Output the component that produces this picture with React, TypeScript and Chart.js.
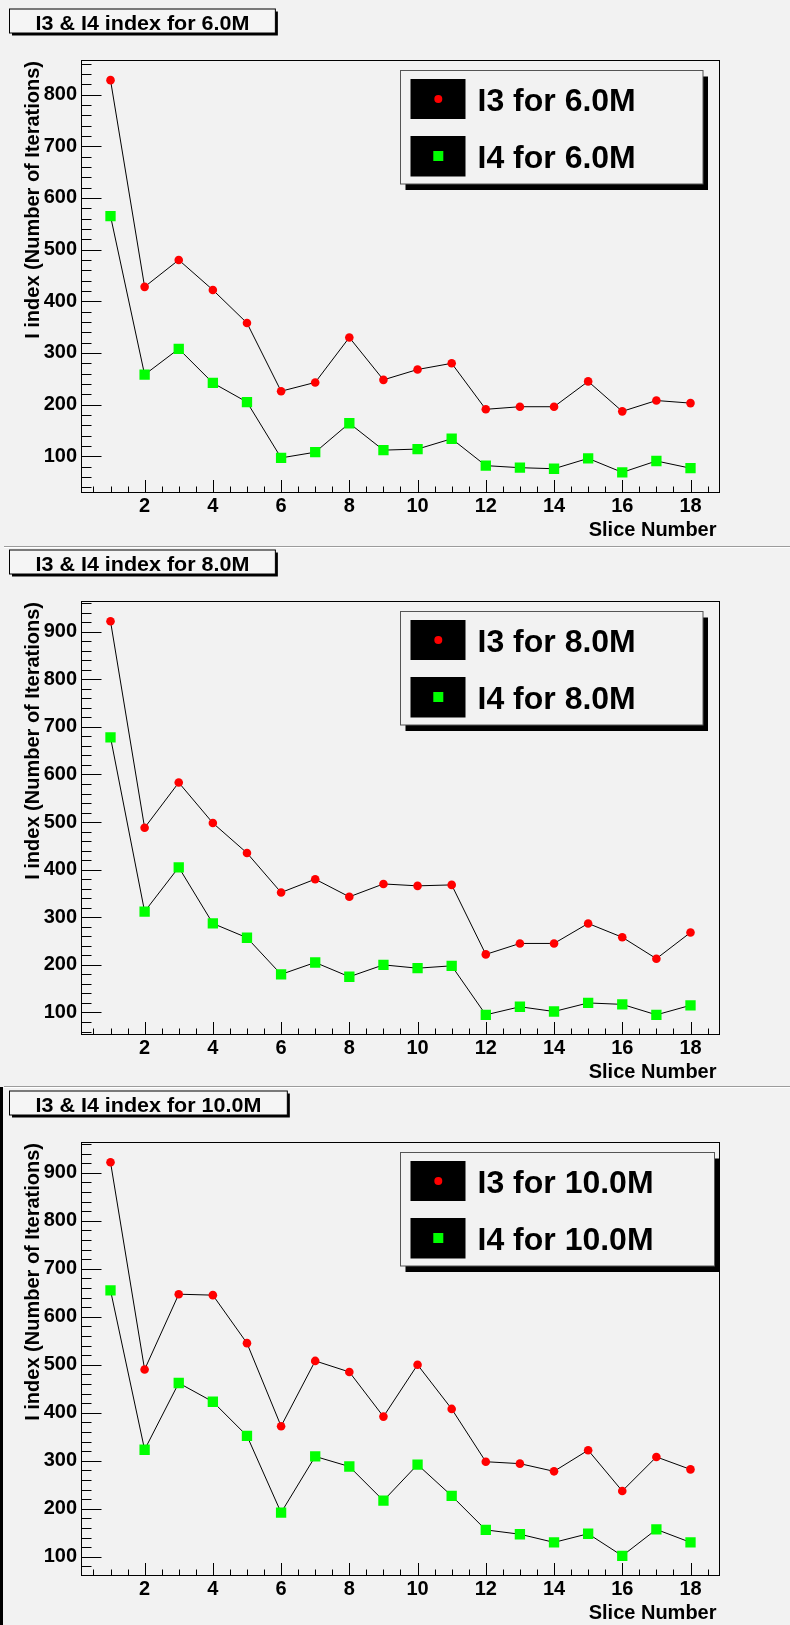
import React, { useEffect, useRef } from "react";
import { Chart, registerables } from "chart.js";

Chart.register(...registerables);

// ---------------- data ----------------
const slices = [1, 2, 3, 4, 5, 6, 7, 8, 9, 10, 11, 12, 13, 14, 15, 16, 17, 18];
const xTickValues = [2, 4, 6, 8, 10, 12, 14, 16, 18];
const yTickValues = [100, 200, 300, 400, 500, 600, 700, 800, 900];
const energies = ["6.0M", "8.0M", "10.0M"];

const i3For6 = [828, 428, 480, 422, 358, 226, 243, 330, 248, 268, 280, 191, 196, 196, 245, 187, 208, 203];
const i4For6 = [565, 258, 308, 242, 205, 97, 108, 164, 112, 114, 134, 82, 78, 76, 96, 69, 91, 77];
const i3For8 = [922, 488, 583, 498, 435, 352, 380, 343, 370, 366, 368, 222, 245, 245, 287, 258, 213, 268];
const i4For8 = [678, 312, 405, 287, 257, 180, 205, 175, 200, 193, 198, 95, 112, 102, 120, 117, 95, 115];
const i3For10 = [922, 490, 647, 645, 545, 372, 508, 485, 392, 500, 408, 298, 294, 278, 322, 237, 308, 282];
const i4For10 = [655, 323, 462, 423, 352, 192, 309, 288, 217, 292, 227, 156, 147, 130, 148, 102, 157, 130];

const yRange6 = [30, 866];
const yRange8 = [53.7, 963.4];
const yRange10 = [61, 963];

const xRange = [0.15, 18.85];

// ---------------- styling ----------------
const BG = "#f2f2f2";
const FONT = '"Liberation Sans", Arial, Helvetica, sans-serif';
const W = 790;

type PanelCfg = {
  top: number;
  height: number;
  frameTop: number;
  energy: string;
  i3: number[];
  i4: number[];
  yRange: number[];
  legendW: number;
  sepY: number | null;
  blackLeft: boolean;
};

const FRAME_LEFT = 81.5;
const FRAME_RIGHT = 719.5;
const FRAME_BOTTOM = 492.5;
const TITLE_SIZE = 20;
const TITLE_HSCALE = 1.075;

function fitText(
  ctx: CanvasRenderingContext2D,
  text: string,
  x: number,
  y: number,
  size: number,
  hScale: number,
  align: "left" | "center" | "right"
) {
  ctx.save();
  ctx.font = `bold ${size}px ${FONT}`;
  ctx.textBaseline = "alphabetic";
  ctx.textAlign = "left";
  const w = ctx.measureText(text).width;
  ctx.translate(x, y);
  ctx.scale(hScale, 1);
  const ox = align === "center" ? -w / 2 : align === "right" ? -w : 0;
  ctx.fillStyle = "#000";
  ctx.fillText(text, ox, 0);
  ctx.restore();
}

function Panel({ cfg }: { cfg: PanelCfg }) {
  const ref = useRef<HTMLCanvasElement | null>(null);

  useEffect(() => {
    const canvas = ref.current;
    if (!canvas) return;
    const H = cfg.height;

    const decor = {
      id: "rootDecor",
      beforeDraw(chart: any) {
        const ctx = chart.ctx as CanvasRenderingContext2D;
        ctx.save();
        ctx.fillStyle = BG;
        ctx.fillRect(0, 0, W, H);
        if (cfg.sepY !== null) {
          ctx.fillStyle = "#9c9c9c";
          ctx.fillRect(4, cfg.sepY, W - 4, 1);
          ctx.fillStyle = "#ffffff";
          ctx.fillRect(4, cfg.sepY + 1, W - 4, 1);
        }
        if (cfg.blackLeft) {
          ctx.fillStyle = "#000";
          ctx.fillRect(0, (cfg.sepY ?? 0) + 1, 3, H);
        }
        ctx.restore();
      },
      beforeDatasetsDraw(chart: any) {
        const ctx = chart.ctx as CanvasRenderingContext2D;
        const xs = chart.scales.x;
        const ys = chart.scales.y;
        const a = chart.chartArea;
        ctx.save();
        ctx.strokeStyle = "#000";
        ctx.lineWidth = 1;
        // frame
        ctx.strokeRect(a.left, a.top, a.right - a.left, a.bottom - a.top);
        ctx.beginPath();
        // x ticks (every 0.5, major every 2)
        for (let k = 1; k <= 37; k++) {
          const v = k * 0.5;
          if (v < xs.min || v > xs.max) continue;
          const px = Math.round(xs.getPixelForValue(v)) + 0.5;
          const major = xTickValues.includes(v);
          const len = major ? 12.5 : 6;
          ctx.moveTo(px, a.bottom);
          ctx.lineTo(px, a.bottom - len);
        }
        // y ticks (every 20, major every 100)
        for (let v = 20; v <= 1000; v += 20) {
          if (v < ys.min || v > ys.max) continue;
          const py = Math.round(ys.getPixelForValue(v)) + 0.5;
          const major = v % 100 === 0;
          const len = major ? 20 : 10;
          ctx.moveTo(a.left, py);
          ctx.lineTo(a.left + len, py);
        }
        ctx.stroke();
        ctx.restore();

        // axis titles
        fitText(ctx, "Slice Number", a.right - 3, 536, 20, 1, "right");
        ctx.save();
        ctx.translate(39, a.top + 0.5);
        ctx.rotate(-Math.PI / 2);
        ctx.font = `bold 20px ${FONT}`;
        ctx.textAlign = "right";
        ctx.textBaseline = "alphabetic";
        ctx.fillStyle = "#000";
        ctx.fillText("I index (Number of Iterations)", 0, 0);
        ctx.restore();
      },
      afterDraw(chart: any) {
        const ctx = chart.ctx as CanvasRenderingContext2D;
        const a = chart.chartArea;
        // title box
        const title = `I3 & I4 index for ${cfg.energy}`;
        ctx.save();
        ctx.font = `bold ${TITLE_SIZE}px ${FONT}`;
        const tw = ctx.measureText(title).width * TITLE_HSCALE;
        const bw = tw + 52;
        const bx = 9.5;
        const by = cfg.frameTop - 51.5;
        const bh = 24;
        ctx.fillStyle = "#000";
        ctx.fillRect(bx + 2.5, by + 2.5, bw, bh);
        ctx.fillStyle = "#f5f5f5";
        ctx.fillRect(bx, by, bw, bh);
        ctx.strokeStyle = "#000";
        ctx.lineWidth = 1;
        ctx.strokeRect(bx, by, bw, bh);
        ctx.restore();
        fitText(ctx, title, bx + bw / 2, by + 20.5, TITLE_SIZE, TITLE_HSCALE, "center");

        // legend
        const lx = 400.5;
        const ly = a.top + 10;
        const lw = cfg.legendW;
        const lh = 113.5;
        ctx.save();
        ctx.fillStyle = "#000";
        ctx.fillRect(lx + 5, ly + 6, lw, lh);
        ctx.fillStyle = BG;
        ctx.fillRect(lx, ly, lw, lh);
        ctx.strokeStyle = "#555";
        ctx.lineWidth = 1;
        ctx.strokeRect(lx, ly, lw, lh);
        // entry boxes
        ctx.fillStyle = "#000";
        ctx.fillRect(lx + 10, ly + 8.5, 55, 40);
        ctx.fillRect(lx + 10, ly + 65.5, 55, 40.5);
        // markers
        ctx.fillStyle = "#ff0000";
        ctx.beginPath();
        ctx.arc(lx + 37.8, ly + 28.5, 4, 0, Math.PI * 2);
        ctx.fill();
        ctx.fillStyle = "#00ff00";
        ctx.fillRect(lx + 32.8, ly + 80.5, 10, 10);
        ctx.restore();
        fitText(ctx, `I3 for ${cfg.energy}`, lx + 77, ly + 40.5, 32, 1, "left");
        fitText(ctx, `I4 for ${cfg.energy}`, lx + 77, ly + 97, 32, 1, "left");
      },
    };

    const tickFont = { family: FONT, weight: "bold" as const, size: 20, lineHeight: 1.2 };

    const chart = new Chart(canvas, {
      type: "scatter",
      data: {
        datasets: [
          {
            label: `I3 for ${cfg.energy}`,
            data: slices.map((s, i) => ({ x: s, y: cfg.i3[i] })),
            showLine: true,
            borderColor: "#000",
            borderWidth: 1,
            pointStyle: "circle",
            pointRadius: 4.3,
            pointBackgroundColor: "#ff0000",
            pointBorderColor: "#ff0000",
            pointBorderWidth: 0,
            pointHoverRadius: 4.3,
          },
          {
            label: `I4 for ${cfg.energy}`,
            data: slices.map((s, i) => ({ x: s, y: cfg.i4[i] })),
            showLine: true,
            borderColor: "#000",
            borderWidth: 1,
            pointStyle: "rect",
            pointRadius: 7.3,
            pointBackgroundColor: "#00ff00",
            pointBorderColor: "#00ff00",
            pointBorderWidth: 0,
            pointHoverRadius: 7.3,
          },
        ],
      },
      options: {
        animation: false,
        responsive: false,
        devicePixelRatio: 1,
        events: [],
        layout: {
          padding: { left: 0, top: cfg.frameTop, right: W - FRAME_RIGHT, bottom: 0 },
        },
        plugins: {
          legend: { display: false },
          title: { display: false },
          tooltip: { enabled: false },
        },
        scales: {
          x: {
            type: "linear",
            min: xRange[0],
            max: xRange[1],
            grid: { display: false, drawTicks: false },
            border: { display: false },
            ticks: { font: tickFont, color: "#000", padding: 2, maxRotation: 0, autoSkip: false },
            afterBuildTicks: (s: any) => {
              s.ticks = xTickValues.map((v) => ({ value: v }));
            },
            afterFit: (s: any) => {
              s.height = H - FRAME_BOTTOM;
            },
          },
          y: {
            type: "linear",
            min: cfg.yRange[0],
            max: cfg.yRange[1],
            grid: { display: false, drawTicks: false },
            border: { display: false },
            ticks: { font: tickFont, color: "#000", padding: 4.5, autoSkip: false },
            afterBuildTicks: (s: any) => {
              s.ticks = yTickValues
                .filter((v) => v >= cfg.yRange[0] && v <= cfg.yRange[1])
                .map((v) => ({ value: v }));
            },
            afterFit: (s: any) => {
              s.width = FRAME_LEFT;
            },
          },
        },
      },
      plugins: [decor],
    });
    return () => chart.destroy();
  }, [cfg]);

  return (
    <canvas
      ref={ref}
      width={W}
      height={cfg.height}
      style={{ position: "absolute", left: 0, top: cfg.top, display: "block" }}
    />
  );
}

const panels: PanelCfg[] = [
  { top: 0, height: 542, frameTop: 60.5, energy: energies[0], i3: i3For6, i4: i4For6, yRange: yRange6, legendW: 302.5, sepY: null, blackLeft: false },
  { top: 542, height: 541, frameTop: 59.5, energy: energies[1], i3: i3For8, i4: i4For8, yRange: yRange8, legendW: 302.5, sepY: 4, blackLeft: false },
  { top: 1083, height: 542, frameTop: 59.5, energy: energies[2], i3: i3For10, i4: i4For10, yRange: yRange10, legendW: 314, sepY: 3, blackLeft: true },
];

export default function App() {
  return (
    <div style={{ position: "absolute", left: 0, top: 0, width: W, height: 1625, background: BG, overflow: "hidden" }}>
      {panels.map((p, i) => (
        <Panel key={i} cfg={p} />
      ))}
    </div>
  );
}
